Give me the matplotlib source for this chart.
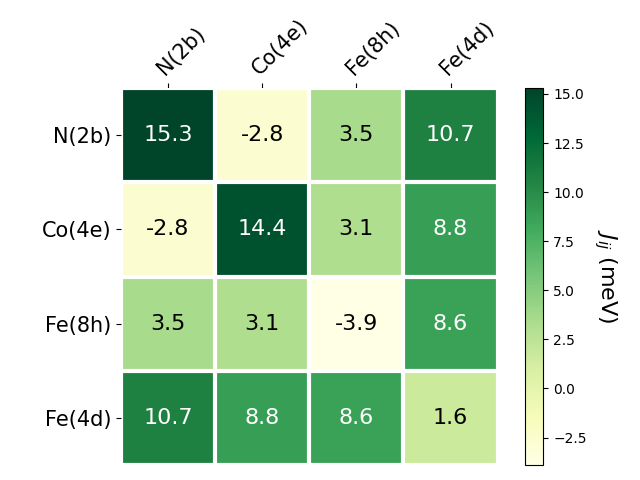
import matplotlib
matplotlib.use("Agg")
import matplotlib.pyplot as plt
import numpy as np

sites = ["N(2b)", "Co(4e)", "Fe(8h)", "Fe(4d)"]

row_n2b = [15.3, -2.8, 3.5, 10.7]
row_co4e = [-2.8, 14.4, 3.1, 8.8]
row_fe8h = [3.5, 3.1, -3.9, 8.6]
row_fe4d = [10.7, 8.8, 8.6, 1.6]

data = np.array([row_n2b, row_co4e, row_fe8h, row_fe4d])

fig, ax = plt.subplots(figsize=(6.4, 4.8), dpi=100)

im = ax.imshow(data, cmap="YlGn")

cbar = fig.colorbar(im, ax=ax)
cbar.ax.set_ylabel("$J_{ij}$ (meV)", rotation=-90, va="bottom", fontsize=16)

ax.set_xticks(np.arange(len(sites)), labels=sites, fontsize=15)
ax.set_yticks(np.arange(len(sites)), labels=sites, fontsize=15)
ax.tick_params(top=True, bottom=False, labeltop=True, labelbottom=False)
plt.setp(ax.get_xticklabels(), rotation=45, ha="left", rotation_mode="anchor")

for spine in ax.spines.values():
  spine.set_visible(False)

ax.set_xticks(np.arange(len(sites) + 1) - .5, minor=True)
ax.set_yticks(np.arange(len(sites) + 1) - .5, minor=True)
ax.grid(which="minor", color="w", linestyle="-", linewidth=3)
ax.tick_params(which="minor", bottom=False, left=False, top=False)

threshold = im.norm(data.max()) / 2.
for i in range(len(sites)):
  for j in range(len(sites)):
    c = "white" if im.norm(data[i, j]) > threshold else "black"
    ax.text(j, i, "{:.1f}".format(data[i, j]), ha="center", va="center",
            color=c, fontsize=16)

fig.tight_layout()
plt.savefig("out.png")
